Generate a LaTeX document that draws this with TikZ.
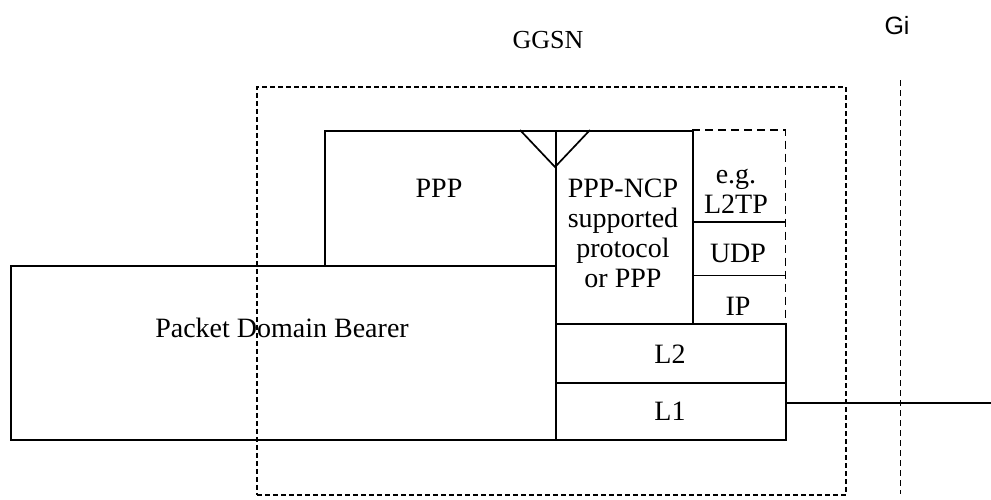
\documentclass[tikz,border=0pt]{standalone}
\usepackage{fontspec}
\setmainfont{Liberation Serif}
\setsansfont{Liberation Sans}
\usetikzlibrary{positioning}

\begin{document}
\begin{tikzpicture}[x=1pt,y=-1pt,
    layer_box/.style={rectangle,draw,line width=1.7pt,inner sep=0pt,anchor=north west},
    open_box/.style={rectangle,inner sep=0pt,anchor=north west},
    node_box/.style={rectangle,draw,line width=1.7pt,inner sep=0pt,anchor=north west,dash pattern=on 5pt off 3pt},
    layer_text/.style={font=\fontsize{28}{30}\selectfont,align=center,inner sep=0pt}]
    \useasboundingbox (0,0) rectangle (991,499);
    % GGSN and the Gi reference point
    \node[node_box,minimum width=589pt,minimum height=408pt] (ggsn) at (256,86) {};
    \node[font=\fontsize{26}{28}\selectfont,anchor=base,inner sep=0pt] (ggsn_lbl) at (548,48) {GGSN};
    \node[font=\sffamily\fontsize{25}{27}\selectfont,anchor=base,inner sep=0pt] (gi_lbl) at (897,34) {Gi};
    \coordinate (gi_top) at (900,80);
    \coordinate (gi_bot) at (900,494);
    \draw[line width=1pt,dash pattern=on 6pt off 4pt] (gi_top) -- (gi_bot);
    % protocol stack
    \node[layer_box,minimum width=231pt,minimum height=135pt] (ppp) at (324,130) {};
    \node[layer_box,minimum width=545pt,minimum height=174pt] (bearer) at (10,265) {};
    \node[layer_box,minimum width=137pt,minimum height=193pt] (ncp) at (555,130) {};
    \node[open_box,minimum width=93pt,minimum height=92pt] (l2tp) at (692,130) {};
    \node[open_box,minimum width=93pt,minimum height=53pt] (udp) at (692,222) {};
    \node[open_box,minimum width=93pt,minimum height=48pt] (ip) at (692,275) {};
    \node[layer_box,minimum width=230pt,minimum height=59pt] (ltwo) at (555,323) {};
    \node[layer_box,minimum width=230pt,minimum height=57pt] (lone) at (555,382) {};
    \draw[line width=1.7pt,dash pattern=on 8pt off 5pt] (l2tp.north west) -- (l2tp.north east) -- (ip.south east);
    \draw[line width=1.7pt] (udp.north west) -- (udp.north east);
    \draw[line width=1.7pt] (udp.south west) -- (udp.south east);
    \draw[line width=1.7pt] ([xshift=-35pt]ncp.north west) -- ([yshift=-37pt]ncp.north west) -- ([xshift=35pt]ncp.north west);
    % labels
    \node[layer_text,anchor=base] (ppp_lbl) at (439,197) {PPP};
    \node[layer_text,anchor=base] (bearer_lbl) at (282,337) {Packet Domain Bearer};
    \node[layer_text] (ncp_lbl) at (623,233) {PPP-NCP\\supported\\protocol\\or PPP};
    \node[layer_text] (l2tp_lbl) at (736,191) {e.g.\\L2TP};
    \node[layer_text,anchor=base] (udp_lbl) at (738,262) {UDP};
    \node[layer_text,anchor=base] (ip_lbl) at (738,315) {IP};
    \node[layer_text,anchor=base] (ltwo_lbl) at (670,363) {L2};
    \node[layer_text,anchor=base] (lone_lbl) at (670,420) {L1};
    % link to Gi
    \coordinate (lone_out) at (785,403);
    \coordinate (net) at (991,403);
    \draw[line width=1.7pt] (lone_out) -- (net);
\end{tikzpicture}
\end{document}
